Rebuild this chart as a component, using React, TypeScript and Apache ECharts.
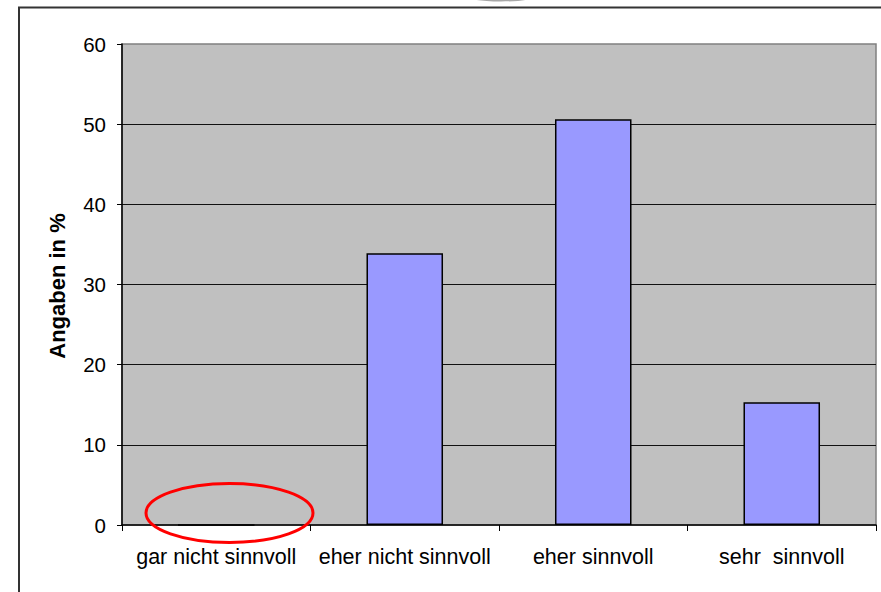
import React, { useEffect, useRef } from "react";
import * as echarts from "echarts";

const categories = ["gar nicht sinnvoll", "eher nicht sinnvoll", "eher sinnvoll", "sehr  sinnvoll"];
const values = [0, 33.9, 50.6, 15.3];
const yTicks = { min: 0, max: 60, interval: 10 };
const yAxisTitle = "Angaben in %";

const FONT = "'Liberation Sans', Arial, sans-serif";

export default function App() {
  const ref = useRef<HTMLDivElement>(null);
  useEffect(() => {
    if (!ref.current) return;
    const chart = echarts.init(ref.current, null, { renderer: "svg" });
    chart.setOption({
      animation: false,
      backgroundColor: "#ffffff",
      grid: {
        left: 122,
        top: 44,
        width: 754,
        height: 481,
        show: true,
        backgroundColor: "#c0c0c0",
        borderColor: "#808080",
        borderWidth: 1.5,
      },
      xAxis: {
        type: "category",
        data: categories,
        boundaryGap: true,
        axisLine: { show: true, lineStyle: { color: "#000", width: 1.5 } },
        axisTick: { show: true, alignWithLabel: false, length: 6, inside: false, lineStyle: { color: "#000" } },
        axisLabel: { color: "#000", fontFamily: FONT, fontSize: 21.5, margin: 21, interval: 0 },
        splitLine: { show: false },
      },
      yAxis: {
        type: "value",
        min: yTicks.min,
        max: yTicks.max,
        interval: yTicks.interval,
        axisLine: { show: true, lineStyle: { color: "#000", width: 1.5 } },
        axisTick: { show: true, length: 5, lineStyle: { color: "#000" } },
        axisLabel: { color: "#000", fontFamily: FONT, fontSize: 20.5, margin: 16 },
        splitLine: { show: true, showMinLine: false, showMaxLine: false, lineStyle: { color: "#111", width: 1.2 } },
      },
      series: [
        {
          type: "bar",
          data: values,
          barWidth: "40.6%",
          itemStyle: { color: "#9999ff", borderColor: "#000", borderWidth: 1.5 },
        },
      ],
      graphic: [
        {
          type: "rect",
          shape: { x: 19, y: 7.5, width: 900, height: 700 },
          style: { fill: "none", stroke: "#333", lineWidth: 2 },
          z: -10,
          silent: true,
        },
        {
          type: "ellipse",
          shape: { cx: 501, cy: -1.5, rx: 28, ry: 3 },
          style: { fill: "#a8a8a8" },
          silent: true,
        },
        {
          type: "text",
          x: 57,
          y: 286,
          rotation: Math.PI / 2,
          style: {
            text: yAxisTitle,
            fill: "#000",
            font: `bold 22px ${FONT}`,
            textAlign: "center",
            textVerticalAlign: "middle",
          },
          silent: true,
        },
        {
          type: "ellipse",
          shape: { cx: 229.5, cy: 513, rx: 83.5, ry: 29.5 },
          style: { fill: "none", stroke: "#ff0000", lineWidth: 3 },
          z: 100,
          silent: true,
        },
      ],
    });
    return () => chart.dispose();
  }, []);
  return (
    <div
      ref={ref}
      style={{ position: "absolute", left: 0, top: 0, width: 881, height: 592 }}
    />
  );
}
